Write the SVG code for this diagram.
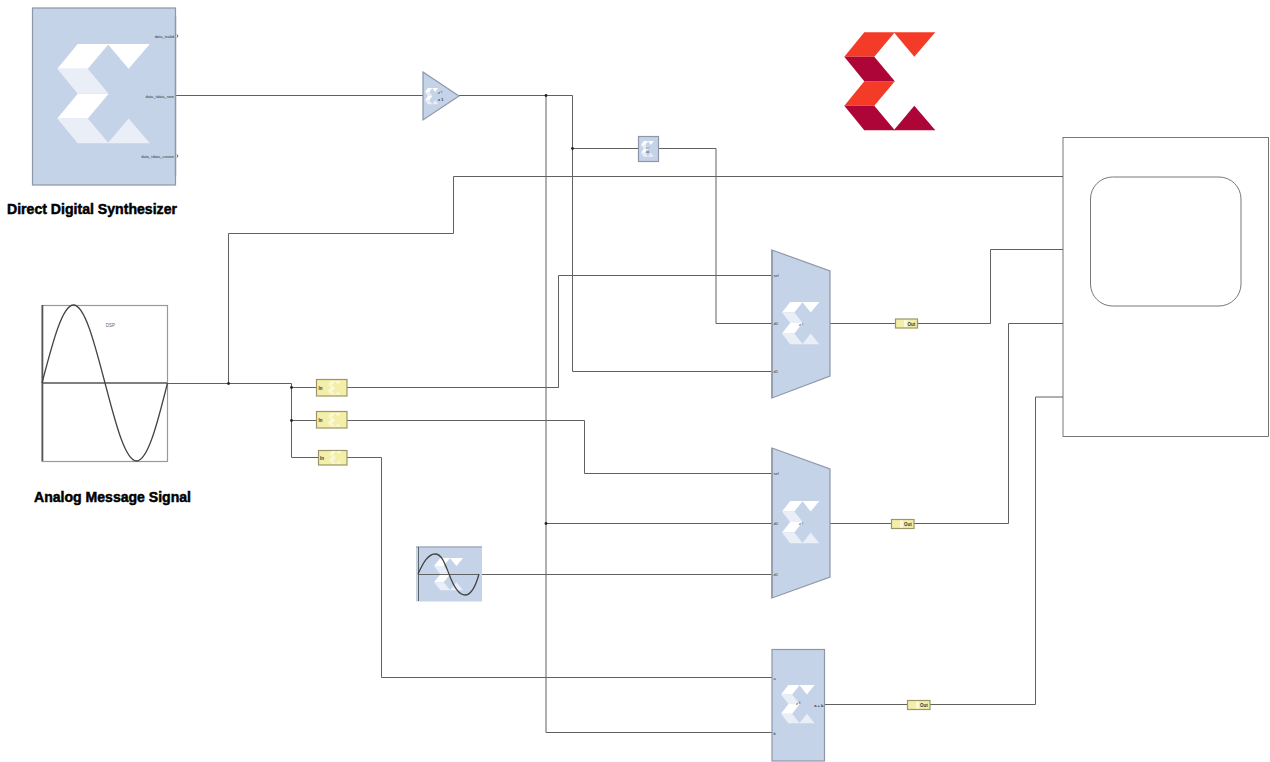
<svg xmlns="http://www.w3.org/2000/svg" width="1270" height="762" viewBox="0 0 1270 762">
<style>
text{font-family:"Liberation Sans",Arial,sans-serif}
.block{fill:#c5d3e9;stroke:#8e97a8;stroke-width:1.2}
.gw{fill:#f3efa8;stroke:#99966a;stroke-width:1.2}
.wire{fill:none;stroke:#606060;stroke-width:1}
.dot{fill:#222}
.bar{fill:none;stroke:#8e97a8;stroke-width:1.4}
.port{font-size:4px;fill:#333}
.tiny{font-size:4px;fill:#333}
.gwt{font-size:4.5px;font-weight:bold;fill:#333}
.title{font-size:15px;font-weight:bold;fill:#000;stroke:#000;stroke-width:.5}
.w1{fill:#fff}.w2{fill:#e9eef7}
.gw1{fill:#fbf9dc}.gw2{fill:#f8f6cf}
.axis{fill:none;stroke:#555;stroke-width:1.6}
.scope{fill:#fff;stroke:#555;stroke-width:.8}
.wave{fill:none;stroke:#444;stroke-width:1.3}
</style>
<defs>
<g id="logoA"><path d="M20 0H50.500L30 24.500H0Z"/><path d="M20 49H50.500L30 73.500H0Z"/><path d="M49.500 0H91L70 24.500Z"/></g>
<g id="logoB"><path d="M0 24.500H30L50.500 49H20Z"/><path d="M0 73.500H30L50.500 98H20Z"/><path d="M49.500 98L70 73.500L91 98Z"/></g>
</defs>
<rect width="1270" height="762" fill="#fff"/>
<g id="connectors" class="wire">
<path d="M176 95.500H423"/>
<path d="M459 95.500H572.500V371.500H772"/>
<path d="M546 95.500V732.500H772"/>
<path d="M546 523.500H772"/>
<path d="M572.500 148.500H638"/>
<path d="M659 148.500H716V323.500H772"/>
<path d="M167 383.500H291.500V457.500H318"/>
<path d="M291.500 387.500H317"/>
<path d="M291.500 420.500H317"/>
<path d="M228.500 383.500V233.500H453.500V176.500H1063"/>
<path d="M347 387.500H558.500V275.500H772"/>
<path d="M347 420.500H584.500V473.500H772"/>
<path d="M347 457.500H381.500V677.500H772"/>
<path d="M479 574.500H772"/>
<path d="M830 323.500H895"/>
<path d="M917 323.500H990.500V249.500H1063"/>
<path d="M830 523.500H891"/>
<path d="M914 523.500H1008.500V323.500H1063"/>
<path d="M824 704.500H907"/>
<path d="M930 704.500H1035.500V397H1063"/>
<g class="dot" stroke="none">
<circle cx="546" cy="95.500" r="1.400"/><circle cx="572.500" cy="148.500" r="1.400"/><circle cx="546" cy="523.500" r="1.400"/>
<circle cx="228.500" cy="383.500" r="1.400"/><circle cx="291.500" cy="387.500" r="1.400"/><circle cx="291.500" cy="420.500" r="1.400"/>
</g>
</g>
<g id="dds">
<rect class="block" x="32.500" y="8" width="143" height="177"/>
<path class="bar" d="M175.500 16V176"/>
<use href="#logoA" class="w1" transform="translate(57.300 44) scale(1.018 1.013)"/>
<use href="#logoB" class="w2" transform="translate(57.300 44) scale(1.018 1.013)"/>
<text class="port" x="174" y="38" text-anchor="end">data_tvalid</text>
<text class="port" x="174" y="97.500" text-anchor="end">data_tdata_sine</text>
<text class="port" x="174" y="157.500" text-anchor="end">data_tdata_cosine</text>
<path d="M177 34.500Q179 36 177 37.500M177 154.500Q179 156 177 157.500" fill="none" stroke="#333" stroke-width=".8"/>
</g>
<text id="dds-title" class="title" x="7" y="214" textLength="170" lengthAdjust="spacingAndGlyphs">Direct Digital Synthesizer</text>
<g id="gain">
<path class="block" d="M423 72L459 96L423 120Z"/>
<use href="#logoA" class="w1" transform="translate(425 88) scale(.145 .165)"/>
<use href="#logoB" class="w2" transform="translate(425 88) scale(.145 .165)"/>
<text class="tiny" x="438" y="94">z⁻¹</text>
<text class="tiny" x="438" y="101" font-weight="bold">x 1</text>
</g>
<g id="delay">
<rect class="block" x="638.500" y="136.500" width="20" height="25"/>
<use href="#logoA" class="w1" transform="translate(641 141) scale(.14 .16)"/>
<use href="#logoB" class="w2" transform="translate(641 141) scale(.14 .16)"/>
<text class="tiny" x="646" y="149" style="font-size:3px">z⁻¹</text>
<text class="tiny" x="646" y="153" style="font-size:3px">lat</text>
</g>
<g id="logo">
<use href="#logoA" fill="#f43b27" transform="translate(844.300 32.300)"/>
<use href="#logoB" fill="#ad0537" transform="translate(844.300 32.300)"/>
</g>
<g id="sine-source">
<rect x="42" y="305.500" width="125.500" height="156" fill="#fff" stroke="#999" stroke-width="1.200"/>
<path class="axis" d="M42.500 305V461"/>
<path class="axis" d="M42 383H167"/>
<path class="wave" d="M42 383C52 345 62 305 73.500 305C85 305 95 345 105 383C115 421 125 461 136.500 461C148 461 158 421 167.500 383"/>
<text x="110.500" y="326.500" text-anchor="middle" style="font-size:4.500px" fill="#666">DSP</text>
</g>
<text id="sine-title" class="title" x="34" y="502" textLength="157" lengthAdjust="spacingAndGlyphs">Analog Message Signal</text>
<g id="gateway-in-1">
<rect class="gw" x="316.500" y="379.500" width="30.500" height="16.500"/>
<use href="#logoA" class="gw1" transform="translate(328 381) scale(.14 .14)"/>
<use href="#logoB" class="gw2" transform="translate(328 381) scale(.14 .14)"/>
<text class="gwt" x="318.500" y="389.500">In</text>
</g>
<g id="gateway-in-2">
<rect class="gw" x="316.500" y="411.500" width="30.500" height="16.500"/>
<use href="#logoA" class="gw1" transform="translate(328 413) scale(.14 .14)"/>
<use href="#logoB" class="gw2" transform="translate(328 413) scale(.14 .14)"/>
<text class="gwt" x="318.500" y="421.500">In</text>
</g>
<g id="gateway-in-3">
<rect class="gw" x="318.500" y="450.500" width="28.500" height="14.500"/>
<use href="#logoA" class="gw1" transform="translate(329 451) scale(.14 .13)"/>
<use href="#logoB" class="gw2" transform="translate(329 451) scale(.14 .13)"/>
<text class="gwt" x="320" y="460">In</text>
</g>
<g id="mux-1">
<path class="block" d="M772 250L830 271V376L772 398Z"/>
<path class="bar" d="M772 250V398"/>
<use href="#logoA" class="w1" transform="translate(782 302) scale(.41 .43)"/>
<use href="#logoB" class="w2" transform="translate(782 302) scale(.41 .43)"/>
<text class="tiny" x="773.500" y="277">sel</text>
<text class="tiny" x="773.500" y="325">d0</text>
<text class="tiny" x="773.500" y="373">d1</text>
<text class="tiny" x="799" y="326">z⁻¹</text>
</g>
<g id="mux-2">
<path class="block" d="M772 448L830 469V577L772 598Z"/>
<path class="bar" d="M772 448V598"/>
<use href="#logoA" class="w1" transform="translate(782 501) scale(.41 .43)"/>
<use href="#logoB" class="w2" transform="translate(782 501) scale(.41 .43)"/>
<text class="tiny" x="773.500" y="475">sel</text>
<text class="tiny" x="773.500" y="525">d0</text>
<text class="tiny" x="773.500" y="576">d1</text>
<text class="tiny" x="799" y="525">z⁻¹</text>
</g>
<g id="sine-wave">
<rect style="stroke:none;fill:#c5d3e9" x="416" y="546.500" width="66" height="55"/>
<path d="M416 547H482" stroke="#8e97a8" stroke-width="1"/>
<use href="#logoA" class="w1" transform="translate(434 558) scale(.32 .33)"/>
<use href="#logoB" class="w2" transform="translate(434 558) scale(.32 .33)"/>
<path class="axis" style="stroke-width:.9" d="M418.500 547V601M418 574.500H479"/>
<path class="wave" d="M418 574C423 563 428 554 435 554C442 554 445 564 449 574C453 585 458 595 465 595C472 595 476 585 479 574"/>
</g>
<g id="addsub">
<rect class="block" x="772" y="649.500" width="52.500" height="111.500"/>
<use href="#logoA" class="w1" transform="translate(781 685) scale(.37 .39)"/>
<use href="#logoB" class="w2" transform="translate(781 685) scale(.37 .39)"/>
<text class="tiny" x="773.500" y="680">a</text>
<text class="tiny" x="773.500" y="735">b</text>
<text class="tiny" x="823.500" y="707" text-anchor="end" font-weight="bold">a + b</text>
<text class="tiny" x="796" y="705">z⁻⁰</text>
</g>
<g id="gateway-out-1">
<rect class="gw" x="895.500" y="319" width="22" height="9"/>
<rect class="gw1" x="904" y="320" width="3" height="7"/>
<text class="gwt" x="907.500" y="325.500">Out</text>
</g>
<g id="gateway-out-2">
<rect class="gw" x="891.500" y="519.500" width="22.500" height="9"/>
<rect class="gw1" x="900" y="520.500" width="3" height="7"/>
<text class="gwt" x="904" y="526">Out</text>
</g>
<g id="gateway-out-3">
<rect class="gw" x="907.500" y="700.500" width="22.500" height="9"/>
<rect class="gw1" x="916" y="701.500" width="3" height="7"/>
<text class="gwt" x="920" y="707">Out</text>
</g>
<g id="scope">
<rect class="scope" x="1063" y="137.500" width="205.500" height="299"/>
<rect class="scope" x="1090.500" y="177" width="150.500" height="129" rx="22" ry="22"/>
</g>
</svg>
